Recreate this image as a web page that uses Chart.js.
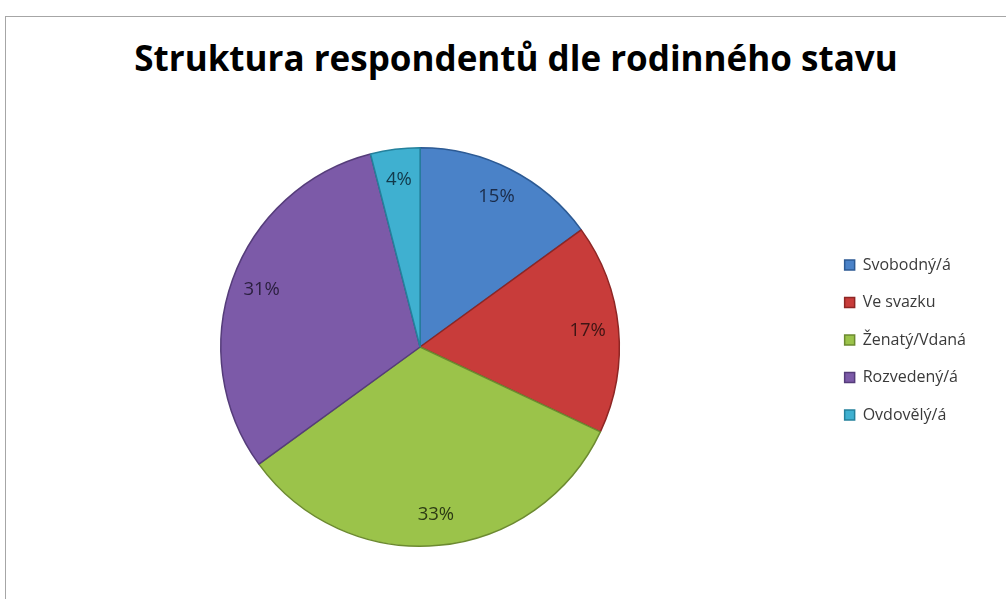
<!DOCTYPE html>
<html>
<head>
<meta charset="utf-8">
<script src="https://cdn.jsdelivr.net/npm/chart.js@4/dist/chart.umd.min.js"></script>
<style>
  html, body { margin: 0; padding: 0; background: #fff; overflow: hidden; }
  #frame {
    position: absolute; left: 5px; top: 16px; width: 1010px; height: 600px;
    border-top: 1px solid #a6a6a6; border-left: 1px solid #a6a6a6;
  }
  #title {
    position: absolute; left: 0; top: 38px; width: 1032px; text-align: center;
    line-height: 40px; font-family: "Open Sans", sans-serif; font-weight: 700;
    font-size: 35px; color: #000;
  }
  #wrap { position: absolute; left: 0; top: 0; width: 1006px; height: 599px; }
</style>
</head>
<body>
<div id="frame"></div>
<div id="title">Struktura respondentů dle rodinného stavu</div>
<div id="wrap"><canvas id="chart"></canvas></div>
<script>
const categories = ["Svobodný/á", "Ve svazku", "Ženatý/Vdaná", "Rozvedený/á", "Ovdovělý/á"];
const shares = [15, 17, 33, 31, 4];
const sliceColors = ["#4a82c8", "#c83c3a", "#9bc34a", "#7c5aa8", "#3fb0d0"];
const edgeColors = ["#2c5a94", "#8e2624", "#6c8a30", "#553c7a", "#24819c"];
const labelColors = ["#1b2c4a", "#3e1514", "#2c3a14", "#2a1f3e", "#12394a"];

// percent labels inside the slices
const sliceLabels = {
  id: "sliceLabels",
  afterDatasetsDraw(chart) {
    const ctx = chart.ctx;
    const meta = chart.getDatasetMeta(0);
    ctx.save();
    ctx.font = "18.5px 'Open Sans', sans-serif";
    ctx.textAlign = "center";
    ctx.textBaseline = "middle";
    meta.data.forEach((arc, i) => {
      const mid = (arc.startAngle + arc.endAngle) / 2;
      const r = arc.outerRadius * 0.845;
      ctx.fillStyle = labelColors[i];
      ctx.fillText(shares[i] + "%", arc.x + Math.cos(mid) * r, arc.y + Math.sin(mid) * r);
    });
    ctx.restore();
  },
};

new Chart(document.getElementById("chart"), {
  type: "pie",
  data: {
    labels: categories,
    datasets: [{
      data: shares,
      backgroundColor: sliceColors,
      borderColor: edgeColors,
      borderWidth: 1.5,
    }],
  },
  options: {
    responsive: true,
    maintainAspectRatio: false,
    animation: false,
    layout: { padding: { left: 17, right: 30, top: 147, bottom: 52 } },
    plugins: {
      title: { display: false },
      tooltip: { enabled: false },
      legend: {
        position: "right",
        align: "start",
        // empty title used as a spacer to push the items down to where they sit
        title: { display: true, text: "", font: { size: 10, lineHeight: 1 }, padding: { top: 78.5, bottom: 0 } },
        labels: {
          boxWidth: 10,
          boxHeight: 10,
          padding: 21.5,
          color: "#3a3a3a",
          font: { family: "'Open Sans', sans-serif", size: 16 },
        },
      },
    },
  },
  plugins: [sliceLabels],
});
</script>
</body>
</html>
